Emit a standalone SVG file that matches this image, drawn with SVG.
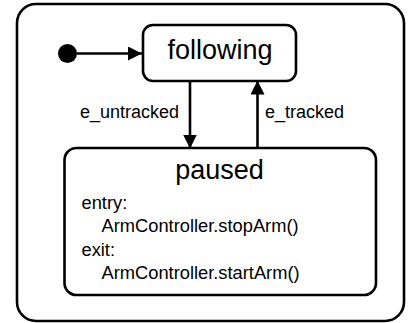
<svg xmlns="http://www.w3.org/2000/svg" width="408" height="323" viewBox="0 0 408 323">
  <style>
    .state { fill: #ffffff; stroke: #000000; stroke-width: 2.6; }
    .edge { fill: none; stroke: #000000; stroke-width: 2.6; }
    text { font-family: "Liberation Sans", Arial, sans-serif; fill: #000000; }
    .name { font-size: 27px; text-anchor: middle; }
    .label { font-size: 18px; }
    .body { font-size: 18.3px; }
  </style>
  <defs>
    <marker id="arrow" markerUnits="userSpaceOnUse" markerWidth="16" markerHeight="14" refX="14" refY="7" orient="auto">
      <path d="M0,0 L14,7 L0,14 Z" fill="#000000"/>
    </marker>
  </defs>

  <!-- enclosing composite state -->
  <g id="composite">
    <rect class="state" x="17" y="4" width="387" height="317" rx="19" ry="19"/>
  </g>

  <!-- initial pseudostate -->
  <g id="initial">
    <circle cx="67.5" cy="53.5" r="9.5" fill="#000000"/>
  </g>

  <g id="following">
    <rect class="state" x="143" y="25" width="153" height="56" rx="10" ry="10"/>
    <text class="name" x="220" y="58.5">following</text>
  </g>

  <g id="paused">
    <rect class="state" x="64.5" y="148" width="311.5" height="147" rx="12" ry="12"/>
    <text class="name" x="219.5" y="178.5">paused</text>
    <text class="body" x="81.5" y="208.5">entry:</text>
    <text class="body" x="101.5" y="232">ArmController.stopArm()</text>
    <text class="body" x="81.5" y="255.5">exit:</text>
    <text class="body" x="101.5" y="278.5">ArmController.startArm()</text>
  </g>

  <!-- transitions -->
  <g id="connectors">
    <line class="edge" x1="77" y1="53.5" x2="142" y2="53.5" marker-end="url(#arrow)"/>
    <line class="edge" x1="190" y1="81" x2="190" y2="148.5" marker-end="url(#arrow)"/>
    <line class="edge" x1="257.5" y1="148" x2="257.5" y2="80.5" marker-end="url(#arrow)"/>
    <text class="label" x="80" y="118">e_untracked</text>
    <text class="label" x="265" y="118">e_tracked</text>
  </g>
</svg>
